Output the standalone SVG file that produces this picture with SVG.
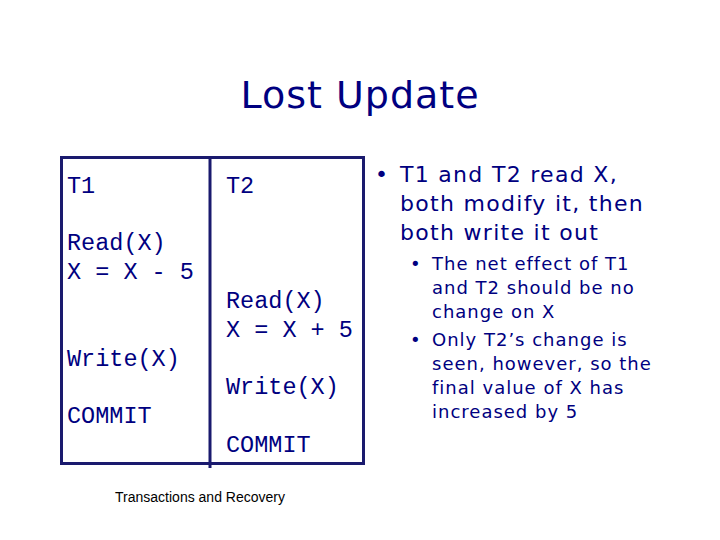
<svg xmlns="http://www.w3.org/2000/svg" width="720" height="540" viewBox="0 0 720 540">
<style>
.m{font-family:"Liberation Mono",monospace;font-size:23.5px;fill:#000080}
.s{font-family:"DejaVu Sans",sans-serif;fill:#000080}
</style>
<rect width="720" height="540" fill="#fff"/>
<text class="s" x="360" y="108" font-size="38" text-anchor="middle" letter-spacing="1">Lost Update</text>
<g id="table">
<rect x="61.5" y="157.5" width="302" height="306" fill="none" stroke="#1a1a6e" stroke-width="3"/>
<line x1="210" y1="157" x2="210" y2="468" stroke="#1a1a6e" stroke-width="3"/>
<text class="m" x="67" y="193">T1</text>
<text class="m" x="226" y="193">T2</text>
<text class="m" x="67" y="250">Read(X)</text>
<text class="m" x="67" y="279">X = X - 5</text>
<text class="m" x="226" y="308">Read(X)</text>
<text class="m" x="226" y="337">X = X + 5</text>
<text class="m" x="67" y="366">Write(X)</text>
<text class="m" x="226" y="394">Write(X)</text>
<text class="m" x="67" y="423">COMMIT</text>
<text class="m" x="226" y="452">COMMIT</text>
</g>
<text x="200" y="502" font-family="Liberation Sans,sans-serif" font-size="14" fill="#000" text-anchor="middle">Transactions and Recovery</text>
<g class="s" font-size="22" letter-spacing="1.3">
<text x="375" y="182">•</text>
<text x="400" y="182">T1 and T2 read X,</text>
<text x="400" y="211">both modify it, then</text>
<text x="400" y="240">both write it out</text>
</g>
<g class="s" font-size="18" letter-spacing="1">
<text x="410" y="270">•</text>
<text x="432" y="270">The net effect of T1</text>
<text x="432" y="294">and T2 should be no</text>
<text x="432" y="318">change on X</text>
<text x="410" y="346">•</text>
<text x="432" y="346">Only T2’s change is</text>
<text x="432" y="370">seen, however, so the</text>
<text x="432" y="394">final value of X has</text>
<text x="432" y="418">increased by 5</text>
</g>
</svg>
